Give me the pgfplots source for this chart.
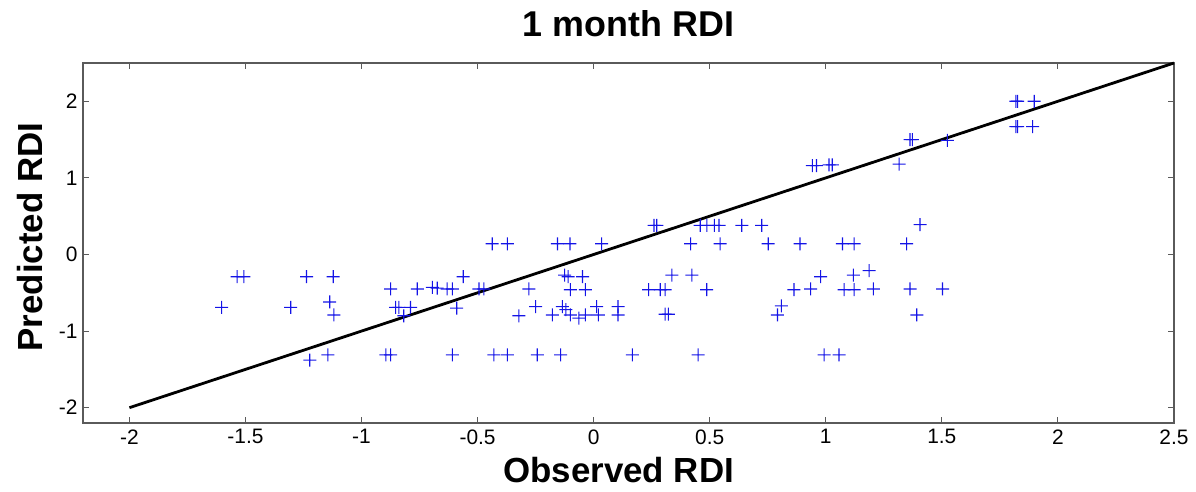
\documentclass[border=0pt]{standalone}
\usepackage{pgfplots}
\pgfplotsset{compat=1.18}
\usepackage{fontspec}
\setmainfont{Liberation Sans}

\definecolor{markblue}{RGB}{20,20,230}
\definecolor{framegray}{RGB}{90,90,90}

% plus mark built from two thin filled bars
\pgfdeclareplotmark{barplus}{%
  \pgfpathrectanglecorners{\pgfqpoint{-\pgfplotmarksize}{-0.55bp}}{\pgfqpoint{\pgfplotmarksize}{0.55bp}}%
  \pgfpathrectanglecorners{\pgfqpoint{-0.55bp}{-\pgfplotmarksize}}{\pgfqpoint{0.55bp}{\pgfplotmarksize}}%
  \pgfusepathqfill}

\begin{document}
\begin{tikzpicture}
\path[use as bounding box] (-83bp,-69bp) rectangle (1113bp,423bp);
\begin{axis}[
  at={(0,0)}, anchor=south west,
  scale only axis, width=1091bp, height=360bp,
  xmin=-2.2, xmax=2.5, ymin=-2.2, ymax=2.5,
  xtick={-2,-1.5,-1,-0.5,0,0.5,1,1.5,2,2.5},
  xticklabels={-2,-1.5,-1,-0.5,0,0.5,1,1.5,2,2.5},
  ytick={-2,-1,0,1,2},
  yticklabels={-2,-1,0,1,2},
  tick align=inside, major tick length=6bp,
  tick style={line width=0.8bp, color=framegray},
  axis line style={line width=1.2bp, color=framegray},
  ticklabel style={font=\fontsize{21}{24}\selectfont},
  xticklabel style={yshift=-3bp},
  yticklabel style={xshift=-2bp},
  title={1 month RDI},
  title style={font=\fontsize{36}{40}\selectfont\bfseries, at={(rel axis cs:0.5,1)}, anchor=base, yshift=21bp},
  xlabel={Observed RDI},
  xlabel style={font=\fontsize{35}{39}\selectfont\bfseries, at={(rel axis cs:0.491,0)}, anchor=base, yshift=-59bp},
  clip=false,
]
% observed vs predicted values
\addplot[only marks, mark=barplus, mark size=6.5bp, fill=markblue, draw=markblue, mark options={fill=markblue}]
coordinates {
(-1.603,-0.69) (-1.536,-0.29) (-1.507,-0.29) (-1.305,-0.69) (-1.237,-0.29)
(-1.223,-1.38) (-1.145,-1.31) (-1.137,-0.62) (-1.122,-0.29) (-1.119,-0.79)
(-0.895,-1.31) (-0.875,-1.31) (-0.875,-0.45) (-0.853,-0.69) (-0.839,-0.69)
(-0.818,-0.80) (-0.789,-0.69) (-0.760,-0.45) (-0.695,-0.43) (-0.674,-0.44)
(-0.631,-0.45) (-0.609,-0.45) (-0.609,-1.31) (-0.590,-0.70) (-0.562,-0.29)
(-0.494,-0.45) (-0.473,-0.45) (-0.437,0.14) (-0.430,-1.31) (-0.372,0.14)
(-0.372,-1.31) (-0.322,-0.80) (-0.279,-0.45) (-0.250,-0.68) (-0.243,-1.31)
(-0.178,-0.79) (-0.156,0.14) (-0.142,-1.31) (-0.135,-0.68) (-0.125,-0.27)
(-0.120,-0.72) (-0.110,-0.29) (-0.102,0.14) (-0.100,-0.46) (-0.100,-0.79)
(-0.064,-0.83) (-0.048,-0.29) (-0.036,-0.46) (-0.036,-0.79) (0.013,-0.68)
(0.020,-0.79) (0.034,0.14) (0.105,-0.68) (0.105,-0.79) (0.167,-1.31)
(0.237,-0.46) (0.260,0.38) (0.272,0.38) (0.287,-0.46) (0.308,-0.46)
(0.308,-0.78) (0.322,-0.78) (0.337,-0.27) (0.418,0.14) (0.423,-0.27)
(0.450,-1.31) (0.459,0.38) (0.487,-0.46) (0.488,0.38) (0.520,0.38)
(0.540,0.38) (0.545,0.14) (0.638,0.38) (0.724,0.38) (0.752,0.14)
(0.792,-0.79) (0.809,-0.67) (0.863,-0.46) (0.889,0.14) (0.935,-0.45)
(0.942,1.16) (0.960,1.16) (0.978,-0.29) (0.993,-1.31) (1.014,1.17)
(1.028,1.17) (1.057,-1.31) (1.072,0.14) (1.079,-0.46) (1.119,-0.27)
(1.122,-0.46) (1.122,0.14) (1.187,-0.21) (1.205,-0.45) (1.316,1.18)
(1.348,0.14) (1.363,-0.45) (1.363,1.50) (1.373,1.50) (1.392,-0.79)
(1.406,0.39) (1.503,-0.45) (1.524,1.49) (1.819,2.00) (1.826,2.00)
(1.898,2.00) (1.819,1.67) (1.826,1.67) (1.891,1.67)
};
% identity line
\addplot[black, line width=2.8bp] coordinates {(-2,-2) (2.5,2.5)};
% vertical axis title
\node[rotate=90, anchor=base, font=\fontsize{35}{39}\selectfont\bfseries]
  at ([xshift=-40bp, yshift=6bp]rel axis cs:0,0.5) {Predicted RDI};
\end{axis}
\end{tikzpicture}
\end{document}
